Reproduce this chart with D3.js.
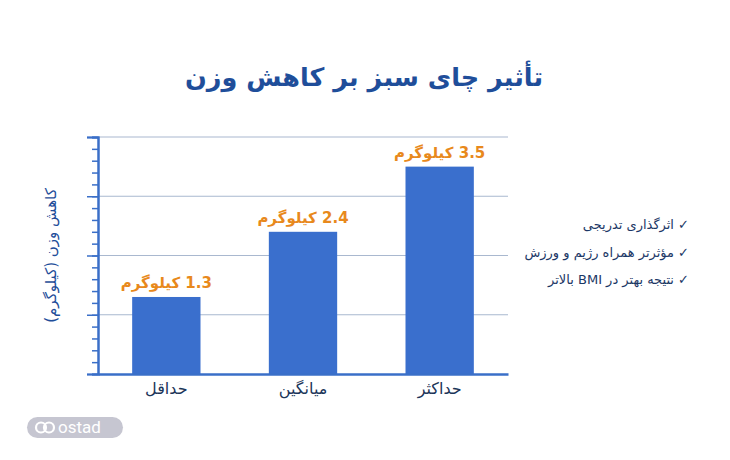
<!DOCTYPE html>
<html>
<head>
<meta charset="utf-8">
<script src="https://cdn.jsdelivr.net/npm/d3@7"></script>
<style>
  body { margin: 0; background: #ffffff; }
  svg { display: block; font-family: "DejaVu Sans", sans-serif; }
</style>
</head>
<body>
<div id="chart"></div>
<script>
var categories = ["حداقل", "میانگین", "حداکثر"];
var values = [1.3, 2.4, 3.5];
var valueLabels = ["1.3 کیلوگرم", "2.4 کیلوگرم", "3.5 کیلوگرم"];
var yTicks = [0, 1, 2, 3, 4];
var notes = ["✓ اثرگذاری تدریجی", "✓ مؤثرتر همراه رژیم و ورزش", "✓ نتیجه بهتر در BMI بالاتر"];
var title = "تأثیر چای سبز بر کاهش وزن";
var yTitle = "کاهش وزن (کیلوگرم)";

var width = 730, height = 460;
var margin = {top: 137, right: 222, bottom: 86, left: 98};
var w = width - margin.left - margin.right;
var h = height - margin.top - margin.bottom;

var svg = d3.select("#chart").append("svg")
    .attr("width", width)
    .attr("height", height);

var g = svg.append("g")
    .attr("transform", "translate(" + margin.left + "," + margin.top + ")");

var xScale = d3.scaleBand()
    .domain(categories)
    .range([0, w])
    .paddingInner(0.5)
    .paddingOuter(0.25);

var yScale = d3.scaleLinear()
    .domain([0, 4])
    .range([h, 0]);

// gridlines
g.append("g")
    .selectAll("line")
    .data(yTicks.slice(1))
    .join("line")
    .attr("x1", 0)
    .attr("x2", w)
    .attr("y1", function(d) { return yScale(d); })
    .attr("y2", function(d) { return yScale(d); })
    .attr("stroke", "#a9b8cf")
    .attr("stroke-width", 1.2);

// bars
g.selectAll("rect.bar")
    .data(values)
    .join("rect")
    .attr("class", "bar")
    .attr("x", function(d, i) { return xScale(categories[i]); })
    .attr("width", xScale.bandwidth())
    .attr("y", function(d) { return yScale(d); })
    .attr("height", function(d) { return h - yScale(d); })
    .attr("fill", "#3a6fcd");

// value labels
g.selectAll("text.val")
    .data(values)
    .join("text")
    .attr("class", "val")
    .attr("x", function(d, i) { return xScale(categories[i]) + xScale.bandwidth() / 2; })
    .attr("y", function(d) { return yScale(d) - 9; })
    .attr("text-anchor", "middle")
    .attr("direction", "rtl")
    .attr("font-size", 15)
    .attr("font-weight", "bold")
    .attr("fill", "#e8891c")
    .text(function(d, i) { return valueLabels[i]; });

// y axis with minor ticks
var minor = d3.range(0, 4.001, 0.2);
var yAxisMinor = g.append("g")
    .call(d3.axisLeft(yScale).tickValues(minor).tickSize(6).tickFormat(""));
var yAxis = g.append("g")
    .call(d3.axisLeft(yScale).tickValues(yTicks).tickSize(11).tickFormat(""));
[yAxisMinor, yAxis].forEach(function(a) {
    a.selectAll("line").attr("stroke", "#3a6fc8").attr("stroke-width", 1.5);
    a.select(".domain").attr("stroke", "#3a6fc8").attr("stroke-width", 2);
});

// x axis
var xAxis = g.append("g")
    .attr("transform", "translate(0," + h + ")")
    .call(d3.axisBottom(xScale).tickSize(0).tickPadding(9));
xAxis.select(".domain").attr("stroke", "#3a6fc8").attr("stroke-width", 2.5);
xAxis.selectAll("text")
    .attr("font-size", 16)
    .attr("font-family", "DejaVu Sans")
    .attr("fill", "#1c3559");

// y axis title
svg.append("text")
    .attr("transform", "translate(56," + (margin.top + h / 2) + ") rotate(-90)")
    .attr("text-anchor", "middle")
    .attr("direction", "rtl")
    .attr("font-size", 15)
    .attr("fill", "#1f4e9a")
    .text(yTitle);

// title
svg.append("text")
    .attr("x", 364)
    .attr("y", 86)
    .attr("text-anchor", "middle")
    .attr("direction", "rtl")
    .attr("font-size", 25.5)
    .attr("font-weight", "bold")
    .attr("fill", "#1f4e9a")
    .text(title);

// notes
svg.append("g")
    .selectAll("text")
    .data(notes)
    .join("text")
    .attr("x", 689)
    .attr("y", function(d, i) { return 229 + i * 27.5; })
    .attr("text-anchor", "start")
    .attr("direction", "rtl")
    .attr("font-size", 13)
    .attr("fill", "#1b3766")
    .text(function(d) { return d; });

// logo
var logo = svg.append("g").attr("transform", "translate(27,417)");
logo.append("rect")
    .attr("width", 96).attr("height", 21).attr("rx", 10.5)
    .attr("fill", "#c6c6d1");
logo.append("circle").attr("cx", 14).attr("cy", 10.5).attr("r", 5)
    .attr("fill", "none").attr("stroke", "#fff").attr("stroke-width", 2.2);
logo.append("circle").attr("cx", 22).attr("cy", 10.5).attr("r", 5)
    .attr("fill", "none").attr("stroke", "#fff").attr("stroke-width", 2.2);
logo.append("text")
    .attr("x", 31).attr("y", 16)
    .attr("font-family", "Roboto, sans-serif")
    .attr("font-size", 17)
    .attr("fill", "#fff")
    .text("ostad");
</script>
</body>
</html>
